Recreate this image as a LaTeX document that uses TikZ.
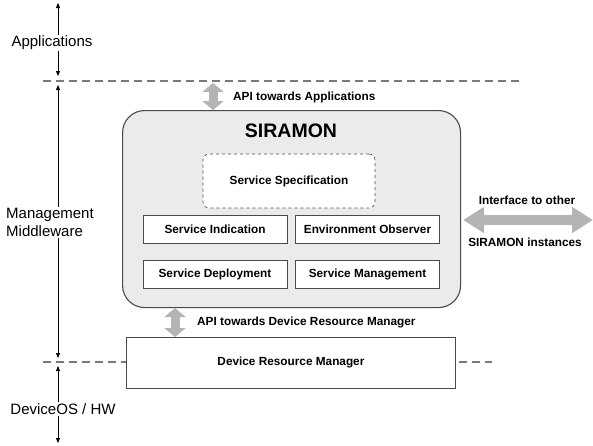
\documentclass[tikz,border=0pt]{standalone}
\usepackage{fontspec}
\setmainfont{Liberation Sans}
\usetikzlibrary{arrows.meta}
\definecolor{boxgray}{HTML}{EBEBEB}
\definecolor{arrgray}{HTML}{B4B4B4}
\definecolor{dashgray}{HTML}{7A7A7A}
\definecolor{edgegray}{HTML}{4A4A4A}
\begin{document}
\begin{tikzpicture}[x=1pt,y=-1pt,
  axis/.style={line width=0.7pt, -{Triangle[length=5pt,width=4pt]}},
  sep/.style={dashgray, line width=1.4pt, dash pattern=on 8pt off 5pt},
  side/.style={font=\fontsize{15}{18.5}\selectfont, inner sep=1pt},
  lbl/.style={font=\bfseries\fontsize{11.8}{13.5}\selectfont, inner sep=0pt},
  comp/.style={draw=edgegray, fill=white, line width=0.9pt, minimum width=144pt, minimum height=28pt, inner sep=0pt, font=\bfseries\fontsize{11.8}{13.5}\selectfont},
  fat/.style={arrgray, line width=9pt, {Triangle[length=9pt,width=21pt]}-{Triangle[length=9pt,width=21pt]}},
  fatwide/.style={arrgray, line width=10pt, {Triangle[length=21pt,width=25pt]}-{Triangle[length=21pt,width=25pt]}}
]
\useasboundingbox (0,0) rectangle (593,445);

% separators
\coordinate (s1l) at (43,81); \coordinate (s1r) at (520,81);
\coordinate (s2l) at (43,362);
\draw[sep] (s1l) -- (s1r);

% SIRAMON box
\node[draw=edgegray, fill=boxgray, line width=1.1pt, rounded corners=22pt, minimum width=338pt, minimum height=197pt, anchor=north west, inner sep=0pt] (sir) at (122,110) {};
\node[font=\bfseries\fontsize{19.5}{22}\selectfont] (sirt) at (291,131) {SIRAMON};

\node[draw=edgegray, dashed, fill=white, rounded corners=6pt, line width=0.6pt, minimum width=172pt, minimum height=54pt, inner sep=0pt, font=\bfseries\fontsize{11.8}{13.5}\selectfont] (spec) at (289,181) {Service Specification};

\node[comp] (ind) at (215,229) {Service Indication};
\node[comp] (env) at (367.5,229) {Environment Observer};
\node[comp] (dep) at (215,274) {Service Deployment};
\node[comp] (mgt) at (367.5,274) {Service Management};

% Device Resource Manager
\node[draw=edgegray, fill=white, line width=0.9pt, minimum width=329pt, minimum height=51pt, anchor=north west, inner sep=0pt, font=\bfseries\fontsize{11.8}{13.5}\selectfont] (drm) at (126,337) {Device Resource Manager};

\draw[sep] (s2l) -- (drm.west |- s2l);
\coordinate (s2r) at (492,362);
\draw[sep] (drm.east |- s2r) ++(3,0) -- (s2r);

% API arrows
\coordinate (a1t) at (213,83);
\draw[fat] (a1t) -- (a1t |- sir.north);
\node[lbl, anchor=west] (api1) at (233,97) {API towards Applications};

\coordinate (a2t) at (175,308);
\draw[fat] (a2t) -- (a2t |- drm.north);
\node[lbl, anchor=west] (api2) at (197,322) {API towards Device Resource Manager};

% Interface arrow
\coordinate (ifr) at (593,220);
\draw[fatwide] (sir.east |- ifr) ++(2,0) -- (ifr);
\node[lbl] (if1) at (527,200) {Interface to other};
\node[lbl] (if2) at (525,242) {SIRAMON instances};

% left axis
\coordinate (axtop) at (58,3);
\coordinate (d1u) at (58,76);
\coordinate (d1d) at (58,85);
\coordinate (d2u) at (58,358);
\coordinate (d2d) at (58,366);
\coordinate (axbot) at (58,443);

\node[side] (apps) at (52,43) {Applications};
\node[side, align=left, anchor=west] (mm) at (5,222.5) {Management\\Middleware};
\node[side] (dev) at (63,409) {DeviceOS / HW};

\draw[axis] (apps.north -| axtop) -- (axtop);
\draw[axis] (apps.south -| axtop) -- (d1u);
\draw[axis] (mm.north -| axtop) -- (d1d);
\draw[axis] (mm.south -| axtop) -- (d2u);
\draw[axis] (dev.north -| axtop) -- (d2d);
\draw[axis] (dev.south -| axtop) -- (axbot);
\end{tikzpicture}
\end{document}
